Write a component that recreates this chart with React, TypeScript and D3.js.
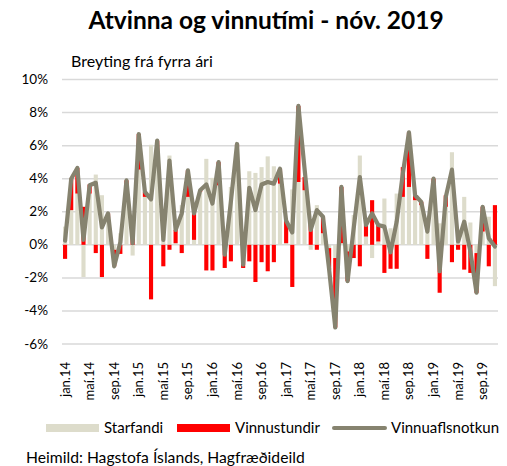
import React from "react";
import * as d3 from "d3";

const MONTHS = ["jan", "feb", "mar", "apr", "maí", "jún", "júl", "ágú", "sep", "okt", "nóv", "des"];
const YEARS = ["14", "15", "16", "17", "18", "19"];
const categories: string[] = YEARS.flatMap((y) => MONTHS.map((m) => `${m}.${y}`)).slice(0, 71);

const starfandi = [
  1.1, 2.1, 3.1, -1.95, 3.1, 4.25, 3.0, 1.6, -0.3, 0.7,
  3.6, -0.65, 4.55, 2.9, 6.05, 5.0, 1.6, 5.4, 0.1, 2.4,
  2.9, 0.3, 3.2, 5.2, 4.05, 3.6, 0.8, 3.5, 5.9, 0.2,
  4.45, 4.35, 4.7, 5.35, 4.75, 3.7, 0.1, 3.35, 3.8, 3.3,
  -0.3, 2.4, 0.7, -0.2, -0.8, 0.1, -0.4, 1.8, 5.4, 0.5,
  -0.8, 0.2, 2.8, 1.0, 3.1, 2.9, 3.5, 2.7, 2.4, 1.65,
  3.6, 1.3, 2.3, 5.6, 0.5, 2.9, 1.35, -0.5, 0.8, 1.7,
  -2.5,
];

const vinnustundir = [
  -0.85, 1.9, 1.55, 2.3, 0.55, -0.5, -1.95, 0.3, -1.0, -0.55,
  0.3, 0.75, 2.15, 0.3, -3.3, 1.3, -1.3, -0.3, 0.8, -0.5,
  1.6, 1.6, 0.1, -1.55, -1.55, 1.4, -1.4, -1.0, 0.2, -1.4,
  -1.0, -2.25, -1.05, -1.6, -1.05, 0.9, 1.35, -2.55, 4.6, 0.8,
  1.2, -0.3, 1.0, -1.3, -4.2, 3.4, -1.8, -0.8, -1.3, 0.7,
  2.7, 1.0, -1.7, -1.45, -1.45, 1.8, 3.3, 0.3, 0.2, -0.85,
  0.4, -2.9, 0.7, -1.05, -0.3, -1.5, -1.7, -2.4, 1.5, -1.3,
  2.4,
];

const vinnuaflsnotkun = [
  0.25, 4.0, 4.65, 0.3, 3.6, 3.75, 1.05, 1.9, -1.3, 0.15,
  3.9, 0.1, 6.7, 3.2, 2.75, 6.3, 0.3, 5.1, 0.9, 1.9,
  4.5, 1.9, 3.3, 3.65, 2.5, 5.0, -0.6, 2.6, 6.1, -1.2,
  3.45, 2.1, 3.65, 3.8, 3.7, 4.6, 1.45, 0.75, 8.4, 4.6,
  0.9, 2.1, 1.7, -1.5, -5.0, 3.5, -2.2, 1.0, 4.1, 1.2,
  1.9, 1.2, 1.1, -0.45, 1.4, 4.3, 6.8, 3.0, 2.6, 0.8,
  4.0, -1.6, 2.9, 4.55, 0.2, 1.4, -0.4, -2.9, 2.3, 0.4,
  -0.1,
];

const yTicks = [10, 8, 6, 4, 2, 0, -2, -4, -6];

const COL_S = "#dddccb";
const COL_R = "#ff0000";
const COL_L = "#86836f";
const FONT = "Lato, 'Open Sans', sans-serif";

export default function App() {
  const W = 507;
  const H = 466;
  const left = 62;
  const right = 498;
  const top = 79.5;
  const bottom = 344;

  const x = d3
    .scaleBand<number>()
    .domain(d3.range(categories.length))
    .range([left, right])
    .paddingInner(0.33)
    .paddingOuter(0.165);
  const y = d3.scaleLinear().domain([-6, 10]).range([bottom, top]);

  const rows = categories.map((c, i) => ({ i, s: starfandi[i], r: vinnustundir[i] }));
  const stack = d3
    .stack<any>()
    .keys(["s", "r"])
    .offset(d3.stackOffsetDiverging);
  const series = stack(rows);
  const colors = [COL_S, COL_R];

  const cx = (i: number) => (x(i) as number) + x.bandwidth() / 2;
  const line = d3
    .line<number>()
    .x((_, i) => cx(i))
    .y((d) => y(d));

  const legendY = 428;

  return (
    <svg width={W} height={H} style={{ display: "block", position: "absolute", left: 0, top: 0 }}>
      <rect width={W} height={H} fill="#ffffff" />
      <text x={266} y={29} textAnchor="middle" fontFamily={FONT} fontWeight="bold" fontSize={24.5} fill="#000">
        Atvinna og vinnutími - nóv. 2019
      </text>
      <text x={71} y={67} fontFamily={FONT} fontSize={16} fill="#000">
        Breyting frá fyrra ári
      </text>

      {yTicks.map((t) => (
        <g key={t}>
          <line x1={left} x2={right} y1={y(t)} y2={y(t)} stroke="#d9d9d9" strokeWidth={1.5} />
          <text x={48} y={y(t) + 4.5} textAnchor="end" fontFamily={FONT} fontSize={13.5} fill="#000">
            {t}%
          </text>
        </g>
      ))}

      {series.map((s, k) => (
        <g key={k} fill={colors[k]}>
          {s.map((d, i) => {
            const y0 = y(d[0]);
            const y1 = y(d[1]);
            return (
              <rect
                key={i}
                x={x(i) as number}
                width={x.bandwidth()}
                y={Math.min(y0, y1)}
                height={Math.abs(y1 - y0)}
              />
            );
          })}
        </g>
      ))}

      <path
        d={line(vinnuaflsnotkun) || ""}
        fill="none"
        stroke={COL_L}
        strokeWidth={4.2}
        strokeLinejoin="round"
        strokeLinecap="round"
      />

      {categories.map((c, i) =>
        i % 4 === 0 ? (
          <text
            key={c}
            transform={`translate(${cx(i) + 4.5},${362}) rotate(-90)`}
            textAnchor="end"
            fontFamily={FONT}
            fontSize={13}
            fill="#000"
          >
            {c}
          </text>
        ) : null
      )}

      <rect x={46} y={legendY - 4} width={53} height={8} fill={COL_S} />
      <text x={104} y={legendY + 5} fontFamily={FONT} fontSize={15} fill="#000">
        Starfandi
      </text>
      <rect x={177} y={legendY - 4} width={53} height={8} fill={COL_R} />
      <text x={235} y={legendY + 5} fontFamily={FONT} fontSize={15} fill="#000">
        Vinnustundir
      </text>
      <line x1={334} x2={385} y1={legendY} y2={legendY} stroke={COL_L} strokeWidth={4} strokeLinecap="round" />
      <text x={391} y={legendY + 5} fontFamily={FONT} fontSize={15} fill="#000">
        Vinnuaflsnotkun
      </text>

      <text x={26} y={463} fontFamily={FONT} fontSize={15.7} fill="#000">
        Heimild: Hagstofa Íslands, Hagfræðideild
      </text>
    </svg>
  );
}
